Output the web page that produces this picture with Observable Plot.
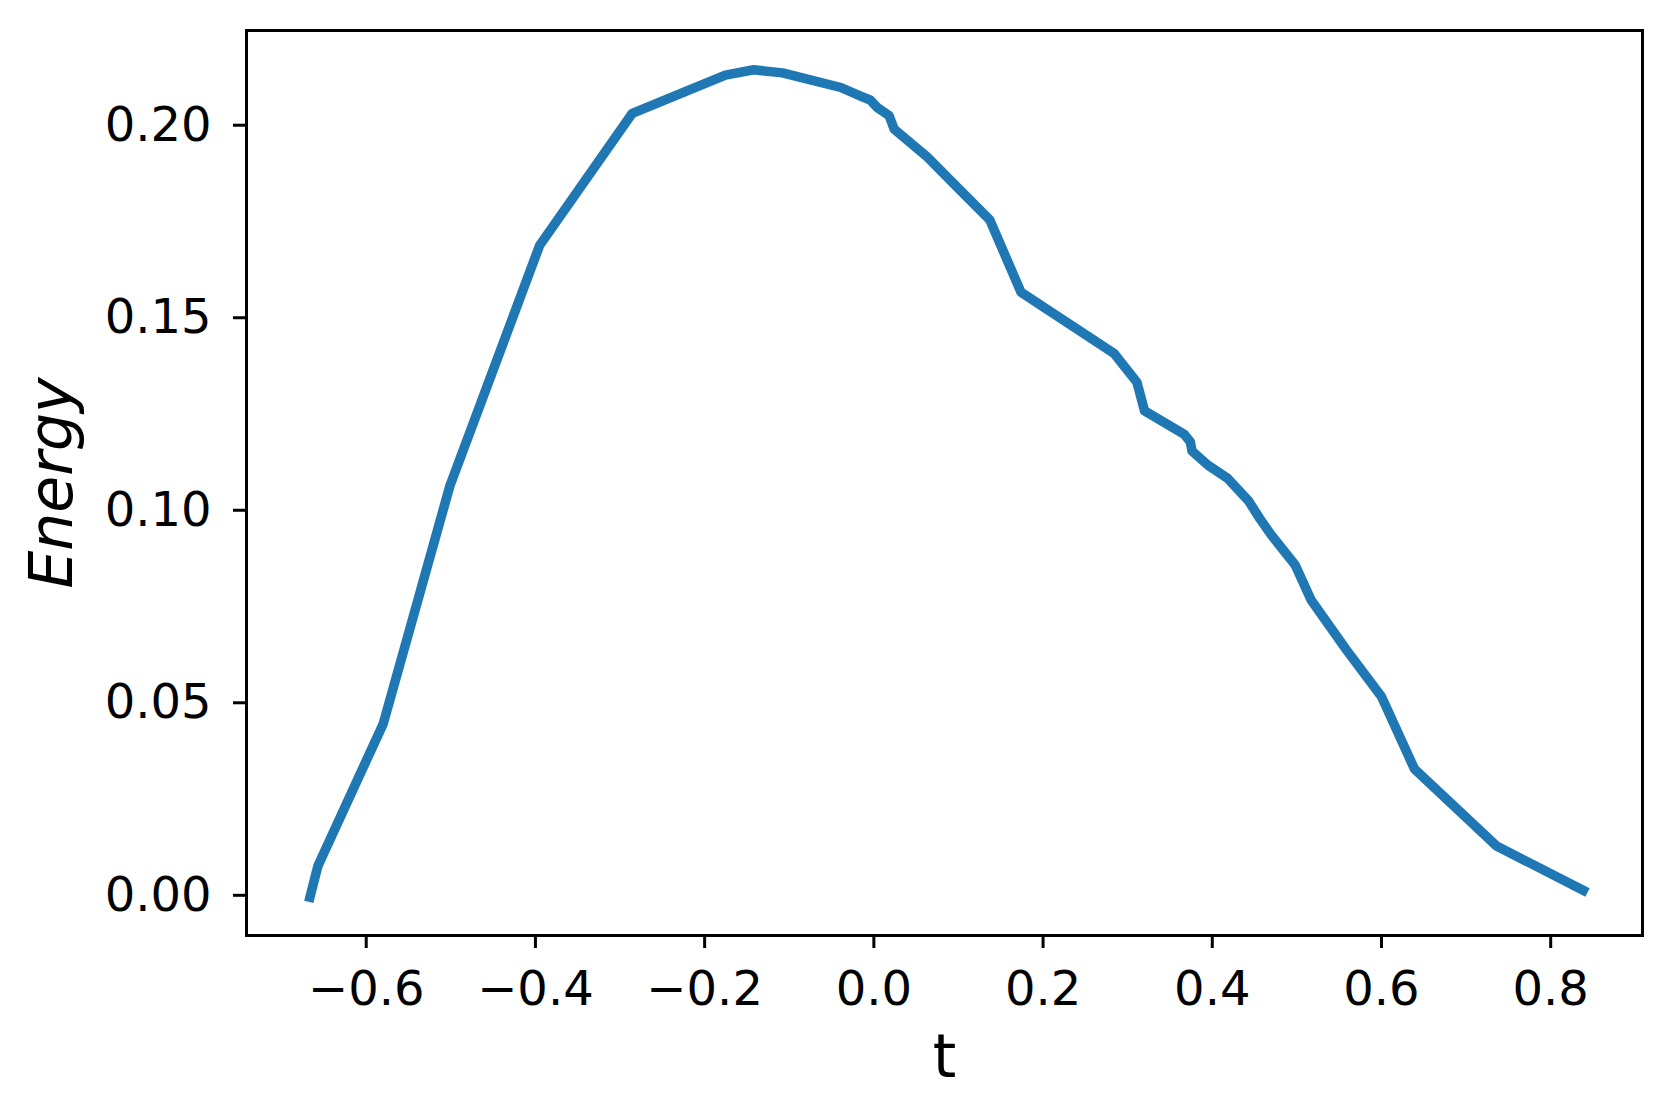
<!DOCTYPE html>
<html>
<head>
<meta charset="utf-8">
<script src="https://cdn.jsdelivr.net/npm/d3@7"></script>
<script src="https://cdn.jsdelivr.net/npm/@observablehq/plot@0.6"></script>
<style>
  html, body { margin: 0; padding: 0; background: #ffffff; overflow: hidden; }
  #chart svg { display: block; }
</style>
</head>
<body>
<div id="chart"></div>
<script>
// Data
const t = [-0.6665, -0.657, -0.580, -0.501, -0.395, -0.2855, -0.1755, -0.142, -0.108, -0.039,
  -0.015, -0.004, 0.004, 0.018, 0.024, 0.063, 0.099, 0.137, 0.174, 0.284,
  0.311, 0.320, 0.367, 0.374, 0.376, 0.395, 0.418, 0.443, 0.456, 0.469,
  0.498, 0.517, 0.558, 0.600, 0.639, 0.736, 0.8385];
const energy = [-0.0005, 0.0077, 0.0445, 0.1064, 0.1688, 0.2031, 0.2130, 0.2144, 0.2136, 0.2098,
  0.2075, 0.2065, 0.2046, 0.2025, 0.1990, 0.1918, 0.1838, 0.1754, 0.1566, 0.1407,
  0.1332, 0.1258, 0.1197, 0.1178, 0.1154, 0.1117, 0.1083, 0.1024, 0.0979, 0.0938,
  0.0858, 0.0766, 0.0639, 0.0516, 0.0328, 0.0128, 0.0013];
const xTicks = [-0.6, -0.4, -0.2, 0.0, 0.2, 0.4, 0.6, 0.8];
const yTicks = [0.00, 0.05, 0.10, 0.15, 0.20];
const xLabel = "t";
const yLabel = "Energy";

const data = t.map((d, i) => ({t: d, energy: energy[i]}));

const chart = Plot.plot({
  width: 1670,
  height: 1116,
  marginLeft: 246,
  marginRight: 28,
  marginTop: 30,
  marginBottom: 181,
  style: {fontFamily: "DejaVu Sans", background: "#ffffff", color: "#000000"},
  x: {domain: [-0.7415, 0.9085], axis: null},
  y: {domain: [-0.01044, 0.2246], axis: null},
  marks: [
    Plot.line(data, {x: "t", y: "energy", stroke: "#1f77b4", strokeWidth: 9.5,
      strokeLinejoin: "round", strokeLinecap: "square"}),
    Plot.frame({stroke: "#000000", strokeWidth: 3}),
    Plot.axisX({ticks: xTicks, tickFormat: d3.format(".1f"), tickSize: 13, tickPadding: 22,
      fontSize: 48, strokeWidth: 3, label: null}),
    Plot.axisY({ticks: yTicks, tickFormat: d3.format(".2f"), tickSize: 13, tickPadding: 22,
      fontSize: 48, strokeWidth: 3, label: null}),
    Plot.text([xLabel], {frameAnchor: "bottom", dy: 122, fontSize: 60, textAnchor: "middle",
      lineAnchor: "middle", fill: "#000000"}),
    Plot.text([yLabel], {frameAnchor: "left", dx: -194, rotate: -90, fontSize: 60,
      fontStyle: "italic", textAnchor: "middle", lineAnchor: "middle", fill: "#000000"})
  ]
});
document.getElementById("chart").appendChild(chart);
</script>
</body>
</html>
